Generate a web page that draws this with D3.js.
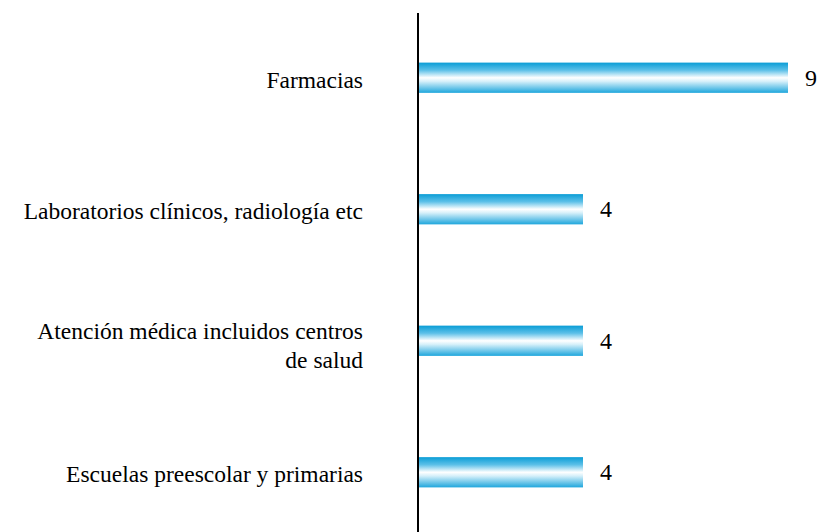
<!DOCTYPE html>
<html><head><meta charset="utf-8">
<script src="https://cdn.jsdelivr.net/npm/d3@7"></script>
<style>body{margin:0;background:#fff}</style>
</head><body>
<script>
const categories = [
  ["Farmacias"],
  ["Laboratorios clínicos, radiología etc"],
  ["Atención médica incluidos centros", "de salud"],
  ["Escuelas preescolar y primarias"]
];
const values = [9, 4, 4, 4];

const W = 823, H = 532;
const FONT = `"Liberation Serif"`;
const svg = d3.select("body").append("svg").attr("width", W).attr("height", H);

const idx = d3.range(categories.length);
const y = d3.scaleBand().domain(idx).range([10, 540]).paddingInner(0.77).paddingOuter(0.4);
const x = d3.scaleLinear().domain([0, 9]).range([419, 788]);

const defs = svg.append("defs");
const g = defs.append("linearGradient").attr("id","barGrad").attr("x1",0).attr("y1",0).attr("x2",0).attr("y2",1);
[[0,"#0a9dd6"],[0.25,"#5cc0e8"],[0.5,"#ffffff"],[0.62,"#d6f0fa"],[1,"#1ea6dc"]].forEach(([o,c])=>
  g.append("stop").attr("offset",o).attr("stop-color",c));

svg.selectAll("rect.bar").data(idx).join("rect")
  .attr("class","bar")
  .attr("x", x(0))
  .attr("y", i => y(i))
  .attr("width", i => x(values[i]) - x(0))
  .attr("height", y.bandwidth())
  .attr("fill","url(#barGrad)");

svg.append("line").attr("x1",418).attr("x2",418).attr("y1",13).attr("y2",532)
  .attr("stroke","#000").attr("stroke-width",2);

idx.forEach(i => {
  const lines = categories[i];
  const cy = y(i) + y.bandwidth()/2;
  const lh = 29;
  lines.forEach((l,k) => {
    svg.append("text")
      .attr("class","lbl")
      .attr("x", 363)
      .attr("y", lines.length>1 ? cy - 2 + k*lh : cy + 10)
      .attr("text-anchor","end")
      .style("font-family", FONT)
      .style("font-size","23.5px")
      .text(l);
  });
  svg.append("text")
    .attr("class","lbl")
    .attr("x", x(values[i]) + 17)
    .attr("y", cy + 8)
    .style("font-family", FONT)
    .style("font-size","24px")
    .text(String(values[i]));
});

if (document.fonts && document.fonts.load) {
  document.fonts.load('24px "Liberation Serif"').then(() => {
    svg.selectAll("text.lbl").style("font-family", FONT);
  });
}
</script>
</body></html>
